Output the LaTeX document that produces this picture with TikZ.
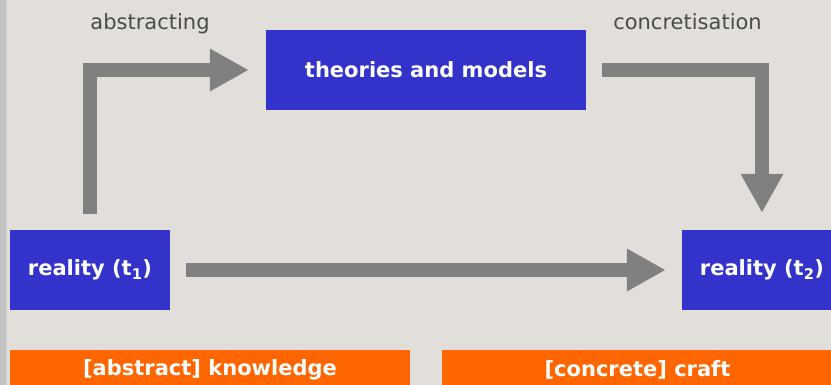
\documentclass[tikz,border=0pt]{standalone}
\usepackage{fontspec}
\setmainfont{DejaVu Sans}
\usetikzlibrary{arrows.meta}
\definecolor{paper}{HTML}{E2DFDA}
\definecolor{boxblue}{HTML}{3333CC}
\definecolor{flowgray}{HTML}{808080}
\definecolor{barorange}{HTML}{FF6600}
\definecolor{notegray}{HTML}{4A4A4A}
\begin{document}
\begin{tikzpicture}[x=1pt, y=-1pt, >={Triangle[length=39pt,width=40pt]},
    box/.style={fill=boxblue, text=white, inner sep=0pt,
      font=\fontsize{21}{25}\selectfont\bfseries},
    bar/.style={fill=barorange, text=white, inner sep=0pt,
      minimum height=40pt, font=\fontsize{21}{25}\selectfont\bfseries},
    flow/.style={->, draw=flowgray, line width=14pt, line join=miter},
    note/.style={text=notegray, anchor=base, inner sep=0pt,
      font=\fontsize{21}{25}\selectfont}]
        \useasboundingbox (0,0) rectangle (831,385);
        \clip (0,0) rectangle (831,385);
        \fill[paper] (0,0) rectangle (831,385);
        \fill[black!23] (0,0) rectangle (6,385);
        \fill[black!18] (6,0) rectangle (7,385);

        \node[box, minimum width=320pt, minimum height=80pt] (tm) at (426,70) {theories and models};
        \node[box, minimum width=160pt, minimum height=80pt] (r1) at (90,270) {reality (t\textsubscript{1})};
        \node[box, minimum width=160pt, minimum height=80pt] (r2) at (762,270) {reality (t\textsubscript{2})};

        \node[note] (abs) at (150,30) {abstracting};
        \node[note] (con) at (687.5,30) {concretisation};

        \node[bar, minimum width=400pt] (know) at (210,370) {[abstract] knowledge};
        \node[bar, minimum width=391pt] (craft) at (637.5,370) {[concrete] craft};

        \draw[flow, shorten <=16pt, shorten >=17pt] (r1.north) |- (tm.west);
        \draw[flow, shorten <=16pt, shorten >=17pt] (tm.east) -| (r2.north);
        \draw[flow, shorten <=16pt, shorten >=16pt] (r1.east) -- (r2.west);
      \end{tikzpicture}
\end{document}
